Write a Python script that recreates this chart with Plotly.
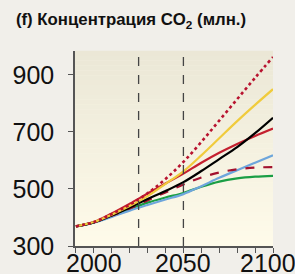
import plotly.graph_objects as go

years = [1990, 2000, 2010, 2020, 2030, 2040, 2050, 2060, 2070, 2080, 2090, 2100]

red_dotted = [369, 384, 412, 445, 485, 535, 595, 665, 740, 815, 890, 963]
yellow = [369, 384, 410, 440, 475, 518, 562, 618, 678, 738, 795, 850]
black = [369, 383, 407, 435, 465, 493, 524, 563, 605, 647, 696, 750]
red_solid = [369, 384, 414, 448, 484, 519, 554, 592, 627, 658, 686, 712]
blue = [369, 382, 402, 424, 444, 463, 482, 510, 539, 566, 592, 618]
dashed = [369, 383, 406, 432, 460, 488, 516, 540, 558, 569, 575, 577]
green = [369, 383, 405, 429, 452, 470, 486, 508, 526, 537, 543, 546]

x_labels = [2000, 2050, 2100]
y_ticks = [300, 500, 700, 900]
vlines = [2025, 2050]
x_range = [1989.5, 2100]

series = [
    (green, "#1a9e45", "solid"),
    (blue, "#6ea6dc", "solid"),
    (dashed, "#a2122f", "dash"),
    (red_solid, "#c4202f", "solid"),
    (black, "#000000", "solid"),
    (yellow, "#f0cb3c", "solid"),
    (red_dotted, "#b8132f", "dot"),
]

fig = go.Figure()
for vals, col, dash in series:
    fig.add_trace(go.Scatter(
        x=years, y=vals, mode="lines",
        line=dict(color=col, width=2.2 if dash != "dot" else 2.6, dash=dash, shape="spline"),
        showlegend=False, hoverinfo="skip"))

# background gradient
shapes = []
n = 40
top = (235, 231, 214)
bot = (254, 251, 234)
for i in range(n):
    t = i / (n - 1)
    c = tuple(round(top[k] + (bot[k] - top[k]) * t) for k in range(3))
    shapes.append(dict(type="rect", xref="x domain", yref="y domain",
                       x0=0, x1=1, y0=1 - (i + 1) / n, y1=1 - i / n + 0.001,
                       fillcolor="rgb(%d,%d,%d)" % c, line=dict(width=0), layer="below"))
for v in vlines:
    shapes.append(dict(type="line", xref="x", yref="y domain", x0=v, x1=v, y0=0, y1=1,
                       line=dict(color="#444444", width=1.3, dash="dash"), layer="above"))

tick_font = dict(family="Liberation Sans Narrow, Liberation Sans, Arial, sans-serif",
                 size=25, color="#111111")

# x-axis labels as annotations (placed tight under the axis like the original)
annotations = []
for v in x_labels:
    annotations.append(dict(x=v, xref="x", y=0, yref="y domain", yanchor="top",
                            xanchor="center", text=str(v), showarrow=False,
                            font=tick_font, yshift=-2, borderpad=0,
                            xshift=-5 if v == x_range[1] else 0))

fig.update_layout(
    width=295, height=274,
    margin=dict(l=75, r=22, t=51, b=28, autoexpand=False),
    paper_bgcolor="#f1efea",
    plot_bgcolor="#fefbea",
    shapes=shapes,
    annotations=annotations,
    font=dict(family="Liberation Sans, Arial, sans-serif", color="#111111"),
    title=dict(text="<b>(f) Концентрация CO<sub>2</sub> (млн.)</b>",
               x=0.054, xanchor="left", xref="container",
               y=0.93, yanchor="middle",
               font=dict(size=16.8, color="#111111")),
    xaxis=dict(range=x_range, showgrid=False, zeroline=False, automargin=False,
               showline=True, linecolor="#555555", linewidth=1.5,
               tickmode="linear", tick0=2000, dtick=10,
               ticks="outside", ticklen=5, tickcolor="#555555", tickwidth=1.2,
               showticklabels=False),
    yaxis=dict(range=[300, 984], showgrid=False, zeroline=False, automargin=False,
               showline=True, linecolor="#555555", linewidth=1.5,
               tickmode="array", tickvals=y_ticks,
               ticks="outside", ticklen=5, tickcolor="#555555",
               ticklabelstandoff=9,
               tickfont=tick_font),
)

fig.write_html("out.html", config={"displayModeBar": False},
               post_script="document.body.style.margin='0';document.body.style.padding='0';"
                           "document.body.style.background='#f1efea';")
